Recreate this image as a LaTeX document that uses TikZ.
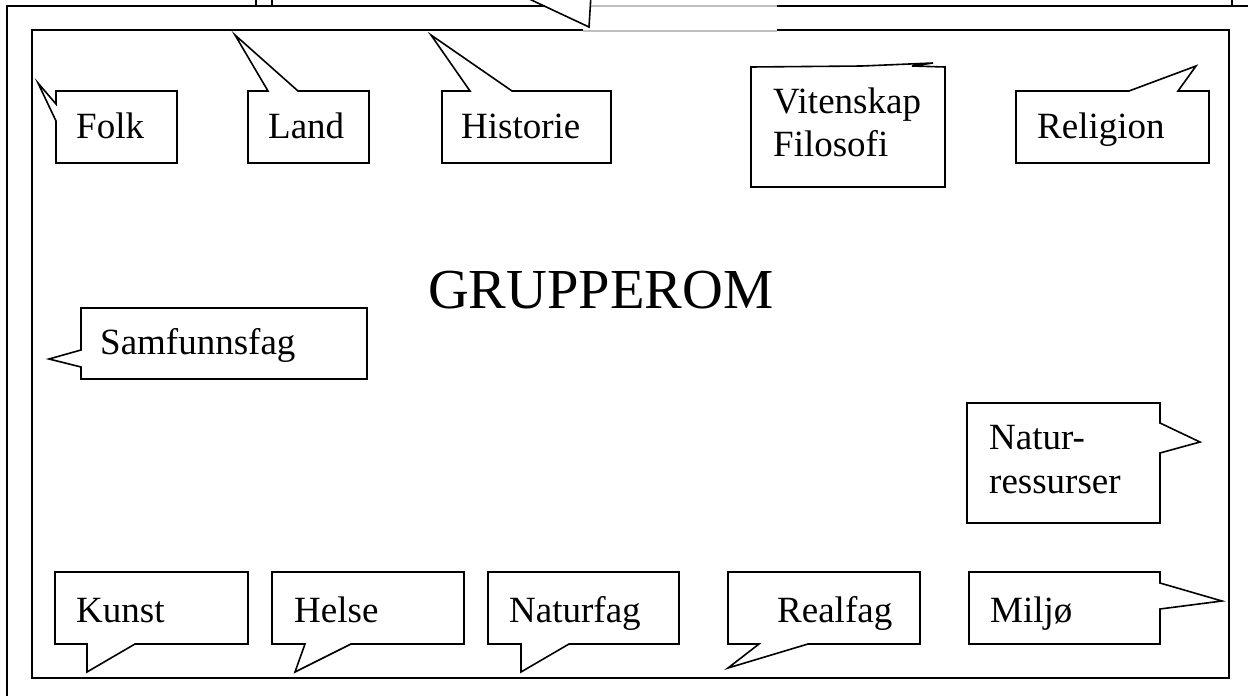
\documentclass[tikz,border=0pt]{standalone}
\usepackage{fontspec}
\setmainfont{Liberation Serif}
\begin{document}
\begin{tikzpicture}[x=1pt,y=-1pt,
  frame/.style={line width=1.6pt,line join=miter,line cap=butt},
  faint/.style={line width=1.2pt,color=black!25},
  bubble/.style={line width=1.6pt,line join=miter,fill=white},
  lbl/.style={anchor=base west,inner sep=0pt,font=\fontsize{37}{44}\selectfont},
  big/.style={anchor=base west,inner sep=0pt,font=\fontsize{56.5}{66}\selectfont}]
\useasboundingbox (0,0) rectangle (1248,696);
\clip (0,0) rectangle (1248,696);
% outer (cropped) frame and upper bubble
\draw[frame] (7,700) -- (7,6) -- (545,6);
\draw[frame] (777,6) -- (1250,6);
\draw[faint] (591,6) -- (777,6);
\draw[frame] (510,-10) -- (589,27) -- (591,-5);
\draw[frame] (256,-5) -- (256,6);
\draw[frame] (272,-5) -- (272,6);
\draw[frame] (1232,-5) -- (1232,6);
% inner frame
\draw[frame] (583,30) -- (32,30) -- (32,678) -- (1229,678) -- (1229,30) -- (777,30);
\draw[faint] (583,31) -- (777,31);
% bubbles
\draw[bubble] (56,91) -- (177,91) -- (177,163) -- (56,163) -- (56,121) -- (38,83) -- (56,104) -- cycle;
\draw[bubble] (248,91) -- (268,91) -- (235,35) -- (298,91) -- (369,91) -- (369,163) -- (248,163) -- cycle;
\draw[bubble] (442,91) -- (470,91) -- (431,35) -- (512,91) -- (611,91) -- (611,163) -- (442,163) -- cycle;
\draw[bubble] (751,67) -- (862,66) -- (933,63) -- (912,66) -- (945,67) -- (945,187) -- (751,187) -- cycle;
\draw[bubble] (1016,91) -- (1129,91) -- (1196,66) -- (1178,91) -- (1209,91) -- (1209,163) -- (1016,163) -- cycle;
\draw[bubble] (81,308) -- (367,308) -- (367,379) -- (81,379) -- (81,367) -- (49,359) -- (81,350) -- cycle;
\draw[bubble] (967,403) -- (1160,403) -- (1160,423) -- (1200,442) -- (1160,453) -- (1160,523) -- (967,523) -- cycle;
\draw[bubble] (55,572) -- (248,572) -- (248,644) -- (135,644) -- (87,672) -- (87,644) -- (55,644) -- cycle;
\draw[bubble] (272,572) -- (464,572) -- (464,644) -- (351,644) -- (295,672) -- (305,644) -- (272,644) -- cycle;
\draw[bubble] (488,572) -- (679,572) -- (679,644) -- (569,644) -- (521,672) -- (521,644) -- (488,644) -- cycle;
\draw[bubble] (728,572) -- (920,572) -- (920,644) -- (808,644) -- (728,668) -- (759,644) -- (728,644) -- cycle;
\draw[bubble] (969,572) -- (1160,572) -- (1160,583) -- (1222,601) -- (1160,609) -- (1160,644) -- (969,644) -- cycle;
% texts
\node[lbl] (folk) at (76,138) {Folk};
\node[lbl] (land) at (268,138) {Land};
\node[lbl] (hist) at (461,138) {Historie};
\node[lbl] (vit) at (773,113) {Vitenskap};
\node[lbl] (filo) at (773,156) {Filosofi};
\node[lbl] (rel) at (1037,138) {Religion};
\node[big] (grp) at (428,308) {GRUPPEROM};
\node[lbl] (samf) at (100,354) {Samfunnsfag};
\node[lbl] (nat1) at (989,449) {Natur-};
\node[lbl] (nat2) at (989,493) {ressurser};
\node[lbl] (kunst) at (76,622) {Kunst};
\node[lbl] (helse) at (294,622) {Helse};
\node[lbl] (natf) at (509,622) {Naturfag};
\node[lbl] (real) at (777,622) {Realfag};
\node[lbl] (milj) at (990,622) {Miljø};
\end{tikzpicture}
\end{document}
